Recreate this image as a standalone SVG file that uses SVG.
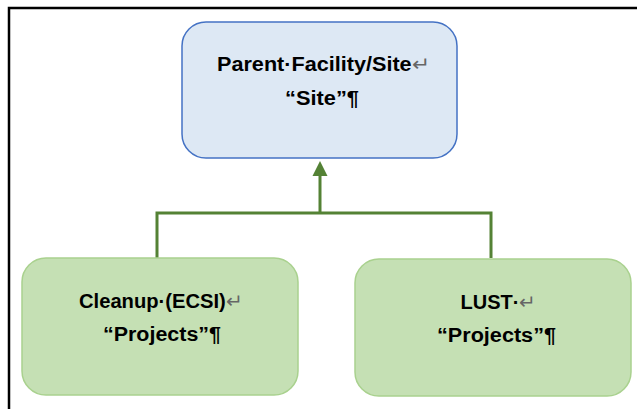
<svg xmlns="http://www.w3.org/2000/svg" width="637" height="409" viewBox="0 0 637 409">
<style>
.t{font-family:"Liberation Sans","Noto Sans",sans-serif;font-weight:bold;font-size:20px;fill:#000;text-anchor:middle}
.m{fill:#666;font-weight:normal}
.blue{fill:#dde8f4;stroke:#4472c4;stroke-width:1.5}
.green{fill:#c5e0b4;stroke:#a9d18e;stroke-width:1.5}
.c{fill:none;stroke:#548235;stroke-width:3}
</style>
<rect width="637" height="409" fill="#fff"/>
<path d="M9,409 V8 H637" fill="none" stroke="#000" stroke-width="2.5"/>
<g id="connectors">
<path class="c" d="M157,258 V213 H491 V258"/>
<path class="c" d="M320,213 V173"/>
<path d="M320,161 L327.5,176 L312.5,176 z" fill="#548235"/>
</g>
<g id="site">
<rect class="blue" x="182" y="22" width="275" height="136" rx="24"/>
<text class="t" x="323.5" y="71" textLength="213" lengthAdjust="spacingAndGlyphs">Parent·Facility/Site<tspan class="m">↵</tspan></text>
<text class="t" x="322" y="105" textLength="74" lengthAdjust="spacingAndGlyphs">“Site”¶</text>
</g>
<g id="cleanup">
<rect class="green" x="22" y="258" width="276" height="137" rx="24"/>
<text class="t" x="161" y="308" textLength="164" lengthAdjust="spacingAndGlyphs">Cleanup·(ECSI)<tspan class="m">↵</tspan></text>
<text class="t" x="162" y="341" textLength="118" lengthAdjust="spacingAndGlyphs">“Projects”¶</text>
</g>
<g id="lust">
<rect class="green" x="355" y="259" width="276" height="137" rx="24"/>
<text class="t" x="498.5" y="309">LUST·<tspan class="m">↵</tspan></text>
<text class="t" x="496.5" y="342" textLength="119" lengthAdjust="spacingAndGlyphs">“Projects”¶</text>
</g>
</svg>
